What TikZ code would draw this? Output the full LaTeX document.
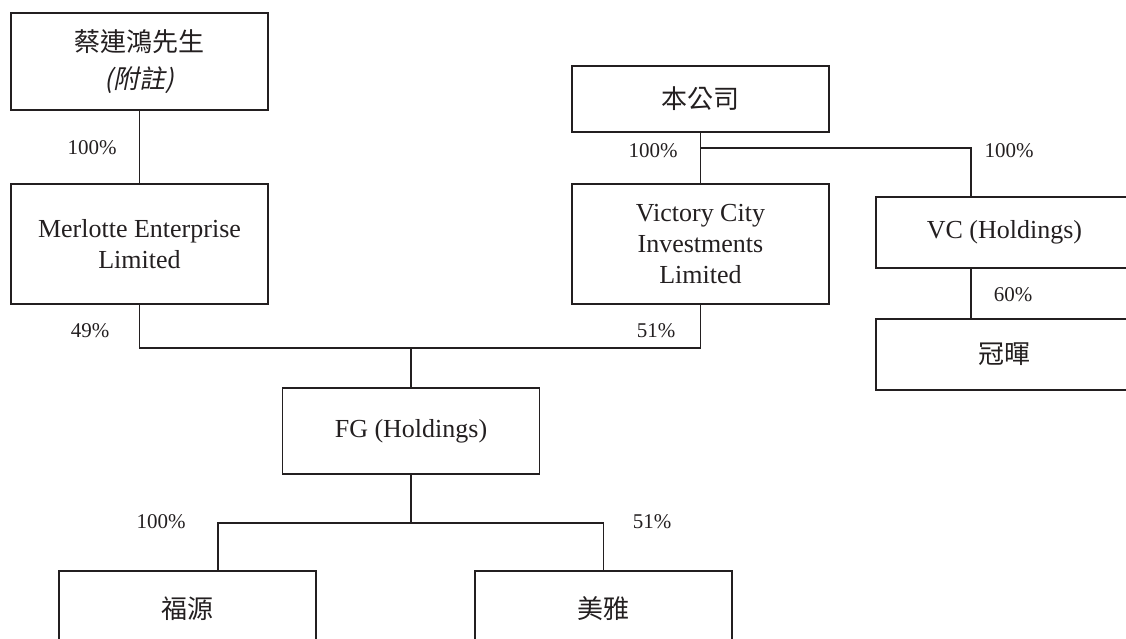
\documentclass[tikz,border=0pt]{standalone}
\usepackage{fontspec}
\setmainfont{Liberation Serif}
\newfontfamily\cjk[AutoFakeSlant=0.2]{Noto Sans CJK TC}
\usetikzlibrary{positioning,calc}
\definecolor{ink}{RGB}{35,31,32}
\tikzset{block/.style={draw=ink,line width=1.9pt,minimum width=257pt,align=center,inner sep=0pt,
                       font=\fontsize{26}{31}\selectfont,text=ink},
         line/.style={draw=ink,line width=1.9pt},
         pct/.style={font=\fontsize{21}{25}\selectfont,text=ink}
}

\begin{document}
\begin{tikzpicture}[x=1pt,y=1pt]

\useasboundingbox (0,0) rectangle (1126,-638);
\clip (0,0) rectangle (1126,-638);

\node[block,minimum height=97pt,anchor=north west] (owner) at (10,-12) {{\cjk 蔡連鴻先生}\\[6pt]{\cjk\itshape (附註)}};
\node[block,minimum height=120pt,below=72pt of owner] (merlotte) {Merlotte Enterprise\\Limited};
\node[block,minimum height=66pt,anchor=north west] (company) at (571,-65) {\cjk 本公司};
\node[block,minimum height=120pt,below=50pt of company] (victory) {Victory City\\Investments\\Limited};
\node[block,minimum height=71pt,anchor=north west] (vc) at (875,-196) {VC (Holdings)};
\node[block,minimum height=71pt,below=49pt of vc] (guanhui) {\cjk 冠暉};
\node[block,minimum height=86pt] (fg) at (411,-431) {FG (Holdings)};
\node[block,minimum height=76pt,anchor=north west] (fuyuan) at (58,-570) {\cjk 福源};
\node[block,minimum height=76pt,anchor=north west] (meiya) at (474,-570) {\cjk 美雅};

\coordinate (cosplit) at ([yshift=-15pt]company.south);
\coordinate (fgjoin) at ([yshift=39pt]fg.north);
\coordinate (fgsplit) at ([yshift=-48pt]fg.south);

\draw[line] (owner.south) -- (merlotte.north);
\draw[line] (company.south) -- (victory.north);
\draw[line] (cosplit) -| ([xshift=96pt]vc.north west);
\draw[line] ([xshift=96pt]vc.south west) -- ([xshift=96pt]guanhui.north west);
\draw[line] (merlotte.south) |- (fgjoin) -| (victory.south);
\draw[line] (fgjoin) -- (fg.north);
\draw[line] (fg.south) -- (fgsplit);
\draw[line] ([xshift=160pt]fuyuan.north west) |- (fgsplit) -| (meiya.north);

\node[pct] (pOwner) at (92,-148) {100\%};
\node[pct] (pVictory) at (653,-151) {100\%};
\node[pct] (pVC) at (1009,-151) {100\%};
\node[pct] (pGuanhui) at (1013,-295) {60\%};
\node[pct] (pMerlotte) at (90,-331) {49\%};
\node[pct] (pVictoryFG) at (656,-331) {51\%};
\node[pct] (pFuyuan) at (161,-522) {100\%};
\node[pct] (pMeiya) at (652,-522) {51\%};

\end{tikzpicture}
\end{document}
